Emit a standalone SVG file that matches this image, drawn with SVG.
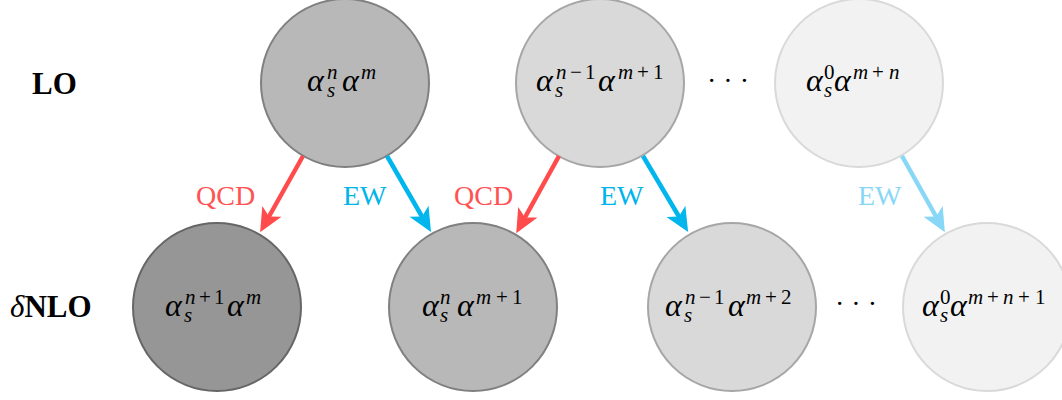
<svg xmlns="http://www.w3.org/2000/svg" width="1062" height="400" viewBox="0 0 1062 400">
<style>
.m{font-family:"Liberation Serif","DejaVu Serif",serif;font-style:italic;font-size:32px;fill:#000}
.sc{font-size:21px}
.r{font-style:normal}
.lab{font-family:"Liberation Serif","DejaVu Serif",serif;font-size:28px}
.row{font-family:"Liberation Serif","DejaVu Serif",serif;font-weight:bold;font-size:31px;fill:#000}
.dots{font-family:"Liberation Serif",serif;font-size:28px;fill:#000}
.c0{fill:#969696;stroke:#666;stroke-width:2}
.c1{fill:#b8b8b8;stroke:#808080;stroke-width:2}
.c2{fill:#d9d9d9;stroke:#a6a6a6;stroke-width:2}
.c3{fill:#f2f2f2;stroke:#d9d9d9;stroke-width:2}
.ar{stroke-width:4.5;fill:none}
</style>
<defs>
<marker id="hr" markerUnits="userSpaceOnUse" markerWidth="40" markerHeight="40" viewBox="-20 -20 40 40" refX="0" refY="0" orient="auto"><path d="M14,0 L-10,-11 L-4,0 L-10,11 Z" fill="#ff4b4b"/></marker>
<marker id="hb" markerUnits="userSpaceOnUse" markerWidth="40" markerHeight="40" viewBox="-20 -20 40 40" refX="0" refY="0" orient="auto"><path d="M14,0 L-10,-11 L-4,0 L-10,11 Z" fill="#00b6ec"/></marker>
<marker id="hl" markerUnits="userSpaceOnUse" markerWidth="40" markerHeight="40" viewBox="-20 -20 40 40" refX="0" refY="0" orient="auto"><path d="M14,0 L-10,-11 L-4,0 L-10,11 Z" fill="#88d7f6"/></marker>
</defs>

<text class="row" x="32" y="94">LO</text>
<text class="row" x="10" y="317"><tspan font-weight="normal" font-style="italic">δ</tspan>NLO</text>

<g id="lo1"><circle class="c1" cx="345" cy="83" r="84"/>
<text class="m"><tspan x="307" y="91">α</tspan><tspan class="sc" x="327" y="97">s</tspan><tspan class="sc" x="327" y="79">n</tspan><tspan x="342" y="91">α</tspan><tspan class="sc" x="361" y="79">m</tspan></text></g>

<g id="lo2"><circle class="c2" cx="600" cy="83" r="84"/>
<text class="m"><tspan x="536" y="91">α</tspan><tspan class="sc" x="555" y="97">s</tspan><tspan class="sc" x="556" y="79">n</tspan><tspan class="sc r" x="570" y="79">−</tspan><tspan class="sc r" x="585" y="79">1</tspan><tspan x="598" y="91">α</tspan><tspan class="sc" x="618" y="79">m</tspan><tspan class="sc r" x="637" y="79">+</tspan><tspan class="sc r" x="653" y="79">1</tspan></text></g>

<g id="lo3"><circle class="c3" cx="859" cy="83" r="84"/>
<text class="m"><tspan x="806" y="91">α</tspan><tspan class="sc" x="824" y="97">s</tspan><tspan class="sc r" x="824" y="79">0</tspan><tspan x="834" y="91">α</tspan><tspan class="sc" x="853" y="79">m</tspan><tspan class="sc r" x="872" y="79">+</tspan><tspan class="sc" x="889" y="79">n</tspan></text></g>

<g id="nlo1"><circle class="c0" cx="217" cy="307" r="84"/>
<text class="m"><tspan x="165" y="316">α</tspan><tspan class="sc" x="184" y="322">s</tspan><tspan class="sc" x="185" y="304">n</tspan><tspan class="sc r" x="199" y="304">+</tspan><tspan class="sc r" x="214" y="304">1</tspan><tspan x="227" y="316">α</tspan><tspan class="sc" x="246" y="304">m</tspan></text></g>

<g id="nlo2"><circle class="c1" cx="473" cy="307" r="84"/>
<text class="m"><tspan x="422" y="316">α</tspan><tspan class="sc" x="440" y="322">s</tspan><tspan class="sc" x="440" y="304">n</tspan><tspan x="457" y="316">α</tspan><tspan class="sc" x="476" y="304">m</tspan><tspan class="sc r" x="496" y="304">+</tspan><tspan class="sc r" x="512" y="304">1</tspan></text></g>

<g id="nlo3"><circle class="c2" cx="732" cy="307" r="84"/>
<text class="m"><tspan x="665" y="316">α</tspan><tspan class="sc" x="684" y="322">s</tspan><tspan class="sc" x="685" y="304">n</tspan><tspan class="sc r" x="699" y="304">−</tspan><tspan class="sc r" x="714" y="304">1</tspan><tspan x="728" y="316">α</tspan><tspan class="sc" x="746" y="304">m</tspan><tspan class="sc r" x="765" y="304">+</tspan><tspan class="sc r" x="781" y="304">2</tspan></text></g>

<g id="nlo4"><circle class="c3" cx="987" cy="307" r="84"/>
<text class="m"><tspan x="922" y="316">α</tspan><tspan class="sc" x="940" y="322">s</tspan><tspan class="sc r" x="940" y="304">0</tspan><tspan x="950" y="316">α</tspan><tspan class="sc" x="968" y="304">m</tspan><tspan class="sc r" x="987" y="304">+</tspan><tspan class="sc" x="1003" y="304">n</tspan><tspan class="sc r" x="1018" y="304">+</tspan><tspan class="sc r" x="1035" y="304">1</tspan></text></g>

<g id="dots1"><text class="dots" x="728" y="90" text-anchor="middle">· · ·</text></g>
<g id="dots2"><text class="dots" x="856" y="313" text-anchor="middle">· · ·</text></g>

<g id="connectors">
<line class="ar" stroke="#ff4b4b" x1="303" y1="156" x2="267" y2="220" marker-end="url(#hr)"/>
<line class="ar" stroke="#00b6ec" x1="387" y1="156" x2="424" y2="220" marker-end="url(#hb)"/>
<line class="ar" stroke="#ff4b4b" x1="559" y1="156" x2="523" y2="221" marker-end="url(#hr)"/>
<line class="ar" stroke="#00b6ec" x1="643" y1="156" x2="681" y2="220" marker-end="url(#hb)"/>
<line class="ar" stroke="#88d7f6" x1="902" y1="156" x2="938" y2="220" marker-end="url(#hl)"/>
<text class="lab" x="196" y="205" fill="#ff5252">QCD</text>
<text class="lab" x="343" y="205" fill="#00b4ec">EW</text>
<text class="lab" x="454" y="205" fill="#ff5252">QCD</text>
<text class="lab" x="600" y="205" fill="#00b4ec">EW</text>
<text class="lab" x="858" y="205" fill="#88d7f6">EW</text>
</g>
</svg>
